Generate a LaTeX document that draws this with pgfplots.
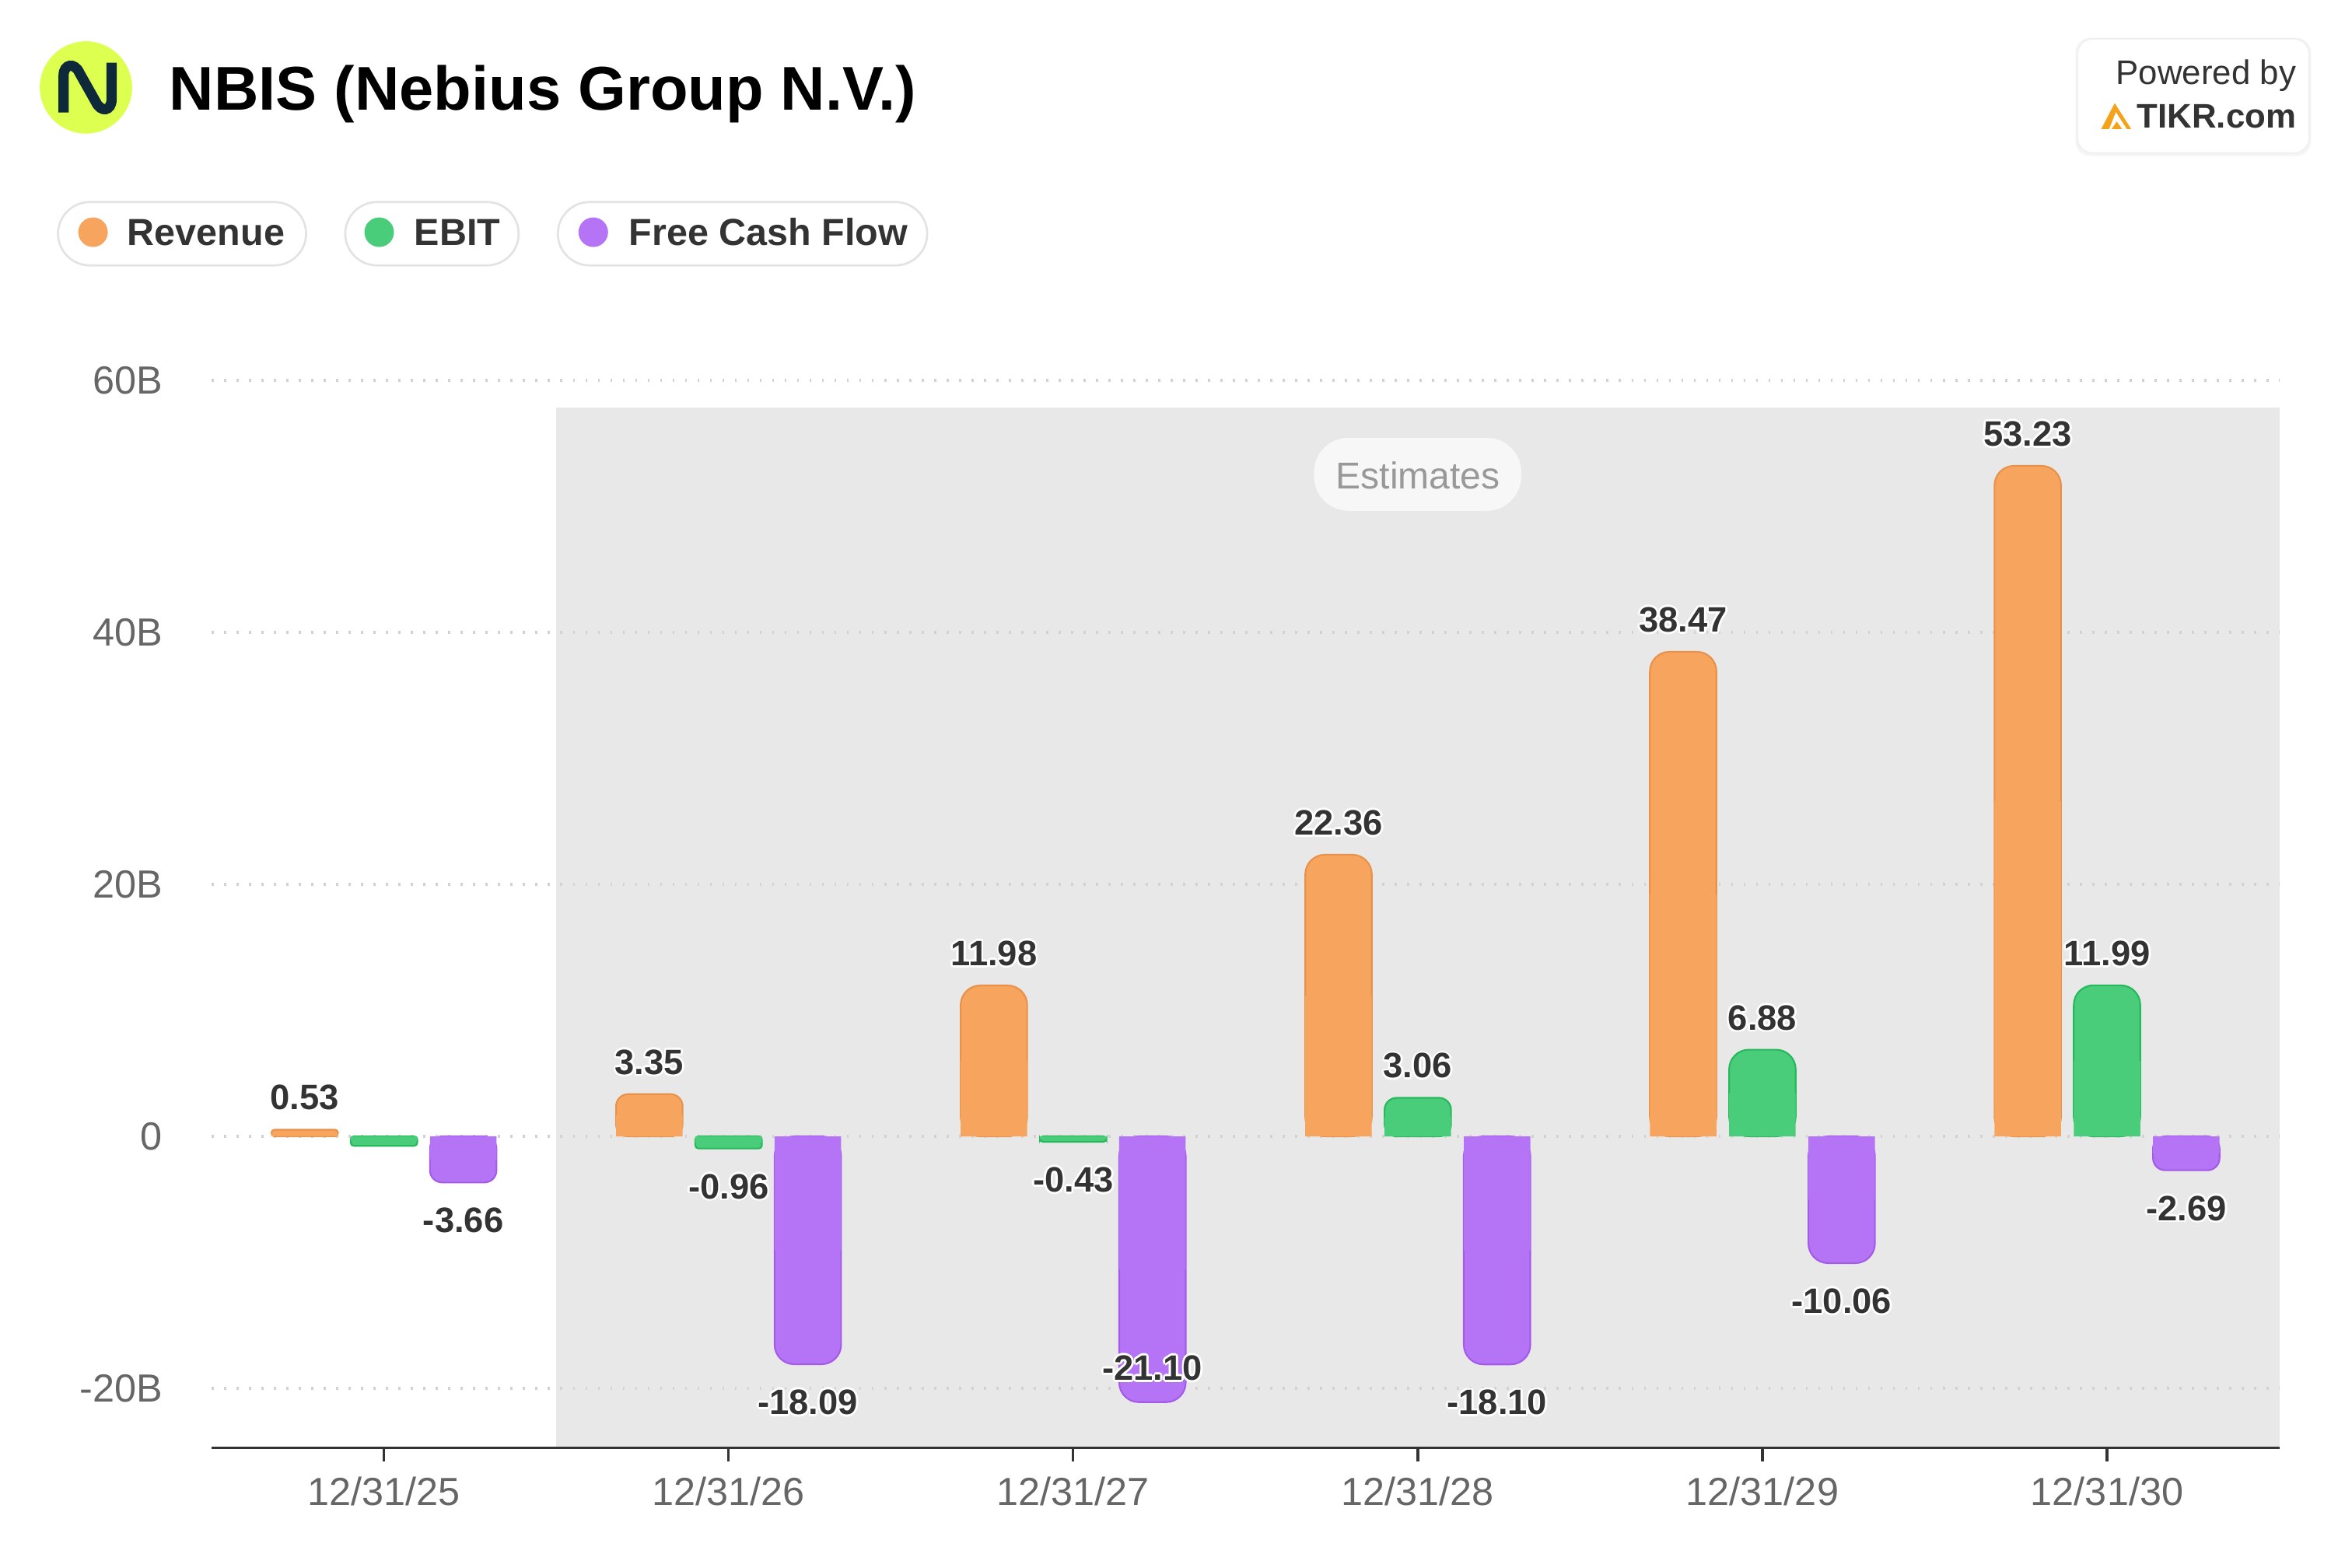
\documentclass[border=0pt]{standalone}
\usepackage{pgfplots}
\pgfplotsset{compat=1.18}
\usepackage{pgfplotstable}
\usepackage{fontspec}
\setmainfont{Liberation Sans}

\definecolor{revF}{HTML}{F7A55E}
\definecolor{revD}{HTML}{E8914A}
\definecolor{ebF}{HTML}{4ACD7A}
\definecolor{ebD}{HTML}{26B85C}
\definecolor{fcF}{HTML}{B574F5}
\definecolor{fcD}{HTML}{A35BE8}
\definecolor{bandc}{HTML}{E8E8E8}
\definecolor{gridc}{HTML}{D2D2D2}
\definecolor{tickc}{HTML}{666666}
\definecolor{labc}{HTML}{333333}
\definecolor{axc}{HTML}{333333}
\definecolor{logoY}{HTML}{DDFF50}
\definecolor{logoN}{HTML}{0E2A3A}
\definecolor{tikrO}{HTML}{F5A21B}
\definecolor{estF}{HTML}{F7F7F7}
\definecolor{estT}{HTML}{999999}
\definecolor{pillB}{HTML}{E3E3E3}

\pgfplotstableread{
x rev ebit fcf
0 0.53 -0.75 -3.66
1 3.35 -0.96 -18.09
2 11.98 -0.43 -21.10
3 22.36 3.06 -18.10
4 38.47 6.88 -10.06
5 53.23 11.99 -2.69
}\data

\newcommand\halo[1]{\setbox0\hbox{#1}%
\rlap{\smash{\color{white}\hspace{0.7pt}\copy0}}%
\rlap{\smash{\color{white}\hspace{-0.7pt}\copy0}}%
\rlap{\smash{\color{white}\raisebox{0.7pt}{\copy0}}}%
\rlap{\smash{\color{white}\raisebox{-0.7pt}{\copy0}}}%
\rlap{\smash{\color{white}\hspace{0.5pt}\raisebox{0.5pt}{\copy0}}}%
\rlap{\smash{\color{white}\hspace{-0.5pt}\raisebox{0.5pt}{\copy0}}}%
\rlap{\smash{\color{white}\hspace{0.5pt}\raisebox{-0.5pt}{\copy0}}}%
\rlap{\smash{\color{white}\hspace{-0.5pt}\raisebox{-0.5pt}{\copy0}}}%
\box0}

\pgfplotsset{
  barA/.style={ybar, bar width=0.193, bar shift=0pt, line width=0.55pt, forget plot},
  labA/.style={draw=none, mark=none, forget plot, point meta=explicit,
    nodes near coords={\halo{\pgfmathprintnumber[fixed,fixed zerofill,precision=2,assume math mode=true]{\pgfplotspointmeta}}},
    every node near coord/.append style={inner xsep=0pt, font=\fontsize{11.7}{13}\selectfont\bfseries, text=labc}},
  labUp/.style={labA, every node near coord/.append style={anchor=south, inner ysep=6.25pt}},
  labDn/.style={labA, every node near coord/.append style={anchor=north, inner ysep=8.3pt}},
}

\begin{document}
\begin{tikzpicture}
\path (0,0) rectangle (780pt,-520pt);

\begin{axis}[
  at={(70.2pt,-480.2pt)}, anchor=south west,
  scale only axis, width=685.7pt, height=354pt,
  xmin=-0.5, xmax=5.5, ymin=-24.74, ymax=60,
  clip=false, set layers,
  axis line style={draw=none},
  xtick={0,1,2,3,4,5},
  xticklabels={12/31/25,12/31/26,12/31/27,12/31/28,12/31/29,12/31/30},
  xtick pos=left, xtick align=outside, major tick length=4.5pt,
  xtick style={draw=axc, line width=0.85pt},
  ytick={-20,0,20,40,60}, yticklabels={-20B,0,20B,40B,60B},
  ytick pos=left, ytick align=inside, ytick style={draw=none},
  ymajorgrids, grid style={draw=gridc, line width=1pt, dash pattern=on 0.7pt off 3.43pt},
  xticklabel style={font=\fontsize{13}{15}\selectfont, text=tickc, inner xsep=0pt, inner ysep=4.8pt},
  yticklabel style={font=\fontsize{13}{15}\selectfont, text=tickc, inner sep=0pt, xshift=-16.1pt},
]
\begin{pgfonlayer}{axis background}
\fill[bandc] (axis cs:0.5,-24.74) rectangle (axis cs:5.5,57.86);
\end{pgfonlayer}

% Revenue
\addplot[barA, fill=revF, draw=revD, rounded corners=6.5pt, skip coords between index={0}{2}] table[x expr=\thisrow{x}-0.23, y=rev]{\data};
\addplot[barA, fill=revF, draw=revD, rounded corners=4pt, skip coords between index={0}{1}, skip coords between index={2}{6}] table[x expr=\thisrow{x}-0.23, y=rev]{\data};
\addplot[barA, fill=revF, draw=revD, rounded corners=1pt, skip coords between index={1}{6}] table[x expr=\thisrow{x}-0.23, y=rev]{\data};
\addplot[barA, fill=revF, draw=none] table[x expr=\thisrow{x}-0.23, y expr=\thisrow{rev}/2]{\data};
% EBIT
\addplot[barA, fill=ebF, draw=ebD, rounded corners=6.5pt, skip coords between index={0}{4}] table[x=x, y=ebit]{\data};
\addplot[barA, fill=ebF, draw=ebD, rounded corners=4pt, skip coords between index={0}{3}, skip coords between index={4}{6}] table[x=x, y=ebit]{\data};
\addplot[barA, fill=ebF, draw=ebD, rounded corners=1pt, skip coords between index={3}{6}] table[x=x, y=ebit]{\data};
\addplot[barA, fill=ebF, draw=none] table[x=x, y expr=\thisrow{ebit}/2]{\data};
% FCF
\addplot[barA, fill=fcF, draw=fcD, rounded corners=6.5pt, skip coords between index={0}{1}, skip coords between index={5}{6}] table[x expr=\thisrow{x}+0.23, y=fcf]{\data};
\addplot[barA, fill=fcF, draw=fcD, rounded corners=4pt, skip coords between index={1}{5}] table[x expr=\thisrow{x}+0.23, y=fcf]{\data};
\addplot[barA, fill=fcF, draw=none] table[x expr=\thisrow{x}+0.23, y expr=\thisrow{fcf}/2]{\data};

% axis line
\draw[axc, line width=0.85pt] (rel axis cs:0,0) -- (rel axis cs:1,0);

% value labels
\addplot[labUp] table[x expr=\thisrow{x}-0.23, y=rev, meta=rev]{\data};
\addplot[labDn, skip coords between index={0}{1}, skip coords between index={3}{6}] table[x=x, y=ebit, meta=ebit]{\data};
\addplot[labUp, skip coords between index={0}{3}] table[x=x, y=ebit, meta=ebit]{\data};
\addplot[labDn, skip coords between index={2}{3}] table[x expr=\thisrow{x}+0.23, y=fcf, meta=fcf]{\data};
\addplot[labUp, every node near coord/.append style={inner ysep=7pt}, skip coords between index={0}{2}, skip coords between index={3}{6}] table[x expr=\thisrow{x}+0.23, y=fcf, meta=fcf]{\data};
\end{axis}

\begin{scope}[x=0.5pt,y=-0.5pt]
% logo
\fill[logoY] (57,58) circle (15.3pt);
\draw[logoN, line width=3.4pt] (42.2,74.6) -- (42.2,50) .. controls (42.2,42.5) and (49.5,41) .. (52.8,48.5) -- (63.5,67.5) .. controls (67,75) and (74,73.5) .. (74,66) -- (74,41.6);
% title
\node[anchor=base west, inner sep=0, font=\fontsize{20.5}{24}\selectfont\bfseries, text=black] at (112,73) {NBIS (Nebius Group N.V.)};

% legend pills
\draw[pillB, fill=white, line width=0.7pt, rounded corners=10.5pt] (38.5,134) rectangle (203,176);
\fill[revF] (61.7,154) circle (4.9pt);
\node[anchor=base west, inner sep=0, font=\fontsize{12.5}{15}\selectfont\bfseries, text=labc] at (84.2,162.5) {Revenue};
\draw[pillB, fill=white, line width=0.7pt, rounded corners=10.5pt] (229,134) rectangle (344,176);
\fill[ebF] (251.5,154) circle (4.9pt);
\node[anchor=base west, inner sep=0, font=\fontsize{12.5}{15}\selectfont\bfseries, text=labc] at (274.5,162.5) {EBIT};
\draw[pillB, fill=white, line width=0.7pt, rounded corners=10.5pt] (370,134) rectangle (615,176);
\fill[fcF] (393.5,154) circle (4.9pt);
\node[anchor=base west, inner sep=0, font=\fontsize{12.5}{15}\selectfont\bfseries, text=labc] at (416.8,162.5) {Free Cash Flow};

% powered by
\fill[black!4, rounded corners=5pt] (1376.5,25) rectangle (1533,103.5);
\draw[black!6, fill=white, line width=0.5pt, rounded corners=5pt] (1377.9,25.8) rectangle (1531.6,101.5);
\node[anchor=base east, inner sep=0, font=\fontsize{11.3}{13}\selectfont, text=labc] at (1523.3,55.9) {Powered by};
\node[anchor=base east, inner sep=0, font=\fontsize{11.3}{13}\selectfont\bfseries, text=labc] at (1523.3,84.7) {TIKR.com};
\fill[tikrO] (1393.7,85.5) -- (1402.6,68.4) -- (1413.5,85.5) -- (1410.6,85.5) -- (1403.4,74.2) -- (1398.9,85.5) -- cycle;
\fill[tikrO] (1400.6,85.5) -- (1404,80.6) -- (1407.4,85.5) -- cycle;

% estimates
\fill[estF, rounded corners=11.5pt] (871.5,290.3) rectangle (1009,338.8);
\node[anchor=base, inner sep=0, font=\fontsize{12.4}{14}\selectfont, text=estT] at (940.5,324.1) {Estimates};
\end{scope}
\end{tikzpicture}
\end{document}
